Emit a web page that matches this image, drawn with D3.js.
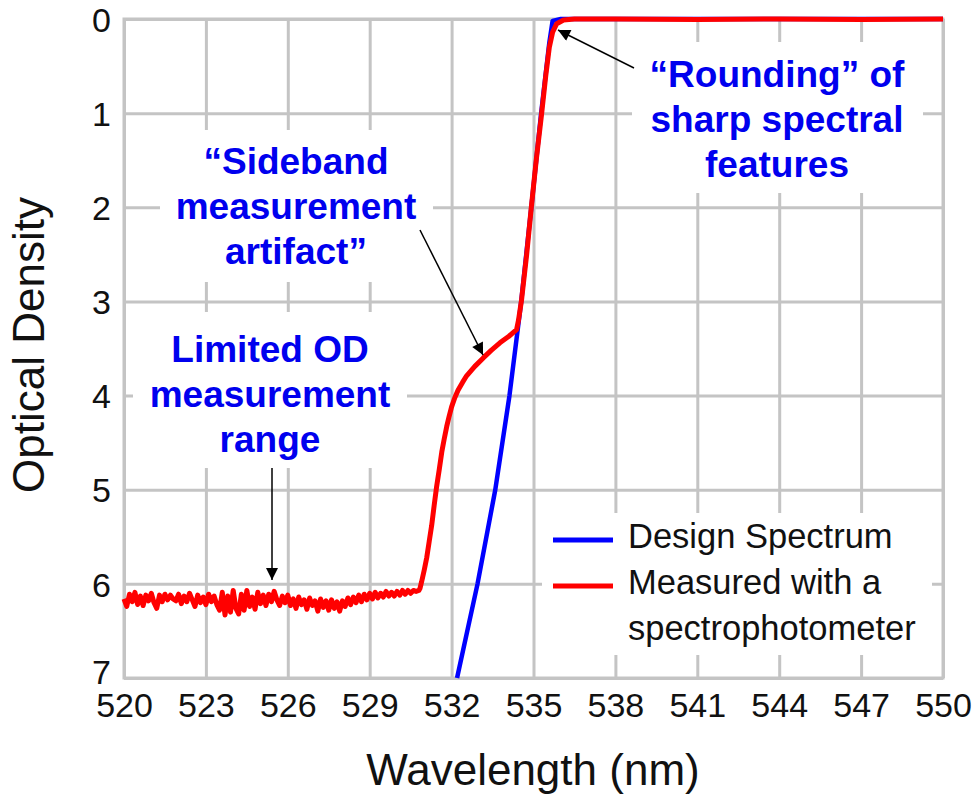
<!DOCTYPE html>
<html>
<head>
<meta charset="utf-8">
<script src="https://cdn.jsdelivr.net/npm/d3@7"></script>
<style>
  body { margin: 0; background: #fff; }
  text { font-family: "Liberation Sans", Arial, sans-serif; }
</style>
</head>
<body>
<svg id="chart" width="975" height="794"></svg>
<script>
// tick values
var xTicks = [520, 523, 526, 529, 532, 535, 538, 541, 544, 547, 550];
var yTicks = [0, 1, 2, 3, 4, 5, 6, 7];

// design spectrum (wavelength nm, optical density)
var designWl = [532.2, 532.95, 533.6, 534.12, 534.55, 534.92, 535.28, 535.58, 535.7, 536, 550];
var designOd = [7, 6, 5, 4, 3, 2, 1, 0.25, 0.02, 0, 0];

// measured with a spectrophotometer: noisy floor 520 - 530.8 nm
var measuredFloor = [
  [520.0, 6.16], [520.1, 6.24], [520.2, 6.11], [520.3, 6.19], [520.4, 6.09], [520.5, 6.22], [520.6, 6.13], [520.7, 6.23], [520.8, 6.12], [520.9, 6.18],
  [521.0, 6.10], [521.1, 6.20], [521.2, 6.26], [521.3, 6.12], [521.4, 6.19], [521.5, 6.11], [521.6, 6.17], [521.7, 6.12], [521.8, 6.16], [521.9, 6.18],
  [522.0, 6.11], [522.1, 6.21], [522.2, 6.13], [522.3, 6.19], [522.4, 6.10], [522.5, 6.17], [522.6, 6.24], [522.7, 6.12], [522.8, 6.20], [522.9, 6.14],
  [523.0, 6.22], [523.1, 6.11], [523.2, 6.19], [523.3, 6.13], [523.4, 6.22], [523.5, 6.28], [523.6, 6.09], [523.7, 6.33], [523.8, 6.13], [523.9, 6.30],
  [524.0, 6.07], [524.1, 6.26], [524.2, 6.32], [524.3, 6.11], [524.4, 6.28], [524.5, 6.07], [524.6, 6.24], [524.7, 6.14], [524.8, 6.27], [524.9, 6.09],
  [525.0, 6.21], [525.1, 6.12], [525.2, 6.23], [525.3, 6.11], [525.4, 6.19], [525.5, 6.08], [525.6, 6.17], [525.7, 6.23], [525.8, 6.13], [525.9, 6.20],
  [526.0, 6.12], [526.1, 6.23], [526.2, 6.16], [526.3, 6.26], [526.4, 6.14], [526.5, 6.22], [526.6, 6.17], [526.7, 6.27], [526.8, 6.15], [526.9, 6.23],
  [527.0, 6.18], [527.1, 6.29], [527.2, 6.16], [527.3, 6.25], [527.4, 6.18], [527.5, 6.28], [527.6, 6.17], [527.7, 6.26], [527.8, 6.19], [527.9, 6.29],
  [528.0, 6.18], [528.1, 6.24], [528.2, 6.15], [528.3, 6.22], [528.4, 6.14], [528.5, 6.20], [528.6, 6.12], [528.7, 6.19], [528.8, 6.11], [528.9, 6.17],
  [529.0, 6.10], [529.1, 6.16], [529.2, 6.09], [529.3, 6.15], [529.4, 6.10], [529.5, 6.14], [529.6, 6.08], [529.7, 6.13], [529.8, 6.09], [529.9, 6.13],
  [530.0, 6.08], [530.1, 6.12], [530.2, 6.07], [530.3, 6.11], [530.4, 6.07], [530.5, 6.10], [530.6, 6.07], [530.7, 6.08], [530.8, 6.07]
];
// measured: edge, sideband shoulder and pass band
var measuredEdge = [
  [530.84, 6.05], [530.9, 5.98], [531.0, 5.85], [531.09, 5.72], [531.18, 5.55], [531.27, 5.38], [531.36, 5.17],
  [531.45, 4.97], [531.55, 4.78], [531.64, 4.6], [531.73, 4.46], [531.82, 4.33], [531.91, 4.22], [532.0, 4.12],
  [532.12, 4.02], [532.24, 3.94], [532.4, 3.86], [532.55, 3.79], [532.85, 3.69], [533.16, 3.6], [533.45, 3.52],
  [533.77, 3.44], [534.1, 3.37], [534.38, 3.3], [534.45, 3.2], [534.56, 2.99], [534.75, 2.5], [534.92, 2.0],
  [535.1, 1.5], [535.3, 1.0], [535.45, 0.6], [535.58, 0.3], [535.7, 0.14], [535.85, 0.05], [536.1, 0.01],
  [536.5, 0], [538, 0], [541, 0.005], [544, 0], [547, 0.005], [550, 0]
];

var legendNames = ["Design Spectrum", "Measured with a", "spectrophotometer"];
var noteRounding = ["\u201cRounding\u201d of", "sharp spectral", "features"];
var noteSideband = ["\u201cSideband", "measurement", "artifact\u201d"];
var noteLimited = ["Limited OD", "measurement", "range"];

var svg = d3.select("#chart");
var margin = {left: 124, top: 19, right: 32, bottom: 116};
var w = 975 - margin.left - margin.right;
var h = 794 - margin.top - margin.bottom;
var grey = "#c4c4c4";

var x = d3.scaleLinear().domain([520, 550]).range([0, w]);
var y = d3.scaleLinear().domain([0, 7]).range([0, h]);

var g = svg.append("g").attr("transform", "translate(" + margin.left + "," + margin.top + ")");

// grid + tick labels
var xAxis = g.append("g").attr("transform", "translate(0," + h + ")")
  .call(d3.axisBottom(x).tickValues(xTicks).tickSize(-h).tickPadding(15).tickFormat(d3.format("d")));
var yAxis = g.append("g")
  .call(d3.axisLeft(y).tickValues(yTicks).tickSize(-w).tickPadding(13).tickFormat(d3.format("d")));
[xAxis, yAxis].forEach(function(a){
  a.select(".domain").remove();
  a.selectAll("line").attr("stroke", grey).attr("stroke-width", 3);
  a.selectAll("text").attr("font-size", 34).attr("fill", "#111")
    .style("font-family", "'Liberation Sans', Arial, sans-serif");
});
yAxis.selectAll("text").attr("dy", "0.36em");
// bottom label sits a little higher, clear of the x labels
yAxis.selectAll(".tick").filter(function(d){ return d === 7; }).select("text").attr("y", -7);

g.append("rect").attr("width", w).attr("height", h)
  .attr("fill", "none").attr("stroke", grey).attr("stroke-width", 3);

// white panels behind the notes and legend (they cut the grid)
function panel(x0, y0, x1, y1){
  svg.append("rect").attr("x", x0).attr("y", y0).attr("width", x1 - x0).attr("height", y1 - y0).attr("fill", "#fff");
}
panel(160, 130, 433, 282);
panel(133, 312, 407, 468);
panel(632, 42, 923, 193);
panel(542, 513, 932, 655);

var plot = svg.append("g").attr("transform", "translate(" + margin.left + "," + margin.top + ")");

var line = d3.line().x(function(d){ return x(d[0]); }).y(function(d){ return y(d[1]); });

plot.append("path")
  .datum(designWl.map(function(v, i){ return [v, designOd[i]]; }))
  .attr("d", line).attr("fill", "none").attr("stroke", "#0000ff").attr("stroke-width", 4.5)
  .attr("stroke-linejoin", "round");

plot.append("path")
  .datum(measuredFloor.concat(measuredEdge))
  .attr("d", line).attr("fill", "none").attr("stroke", "#ff0000").attr("stroke-width", 5)
  .attr("stroke-linejoin", "round");

// axis titles
svg.append("text").attr("x", 533).attr("y", 785).attr("text-anchor", "middle")
  .attr("font-size", 44).attr("fill", "#111").text("Wavelength (nm)");
svg.append("text").attr("transform", "translate(44,345) rotate(-90)").attr("text-anchor", "middle")
  .attr("font-size", 44).attr("fill", "#111").text("Optical Density");

// legend
var legendColors = ["#0000ff", "#ff0000"];
legendColors.forEach(function(c, i){
  svg.append("line").attr("x1", 553).attr("x2", 613).attr("y1", 540 + i * 46).attr("y2", 540 + i * 46)
    .attr("stroke", c).attr("stroke-width", 5);
});
legendNames.forEach(function(t, i){
  svg.append("text").attr("x", 628).attr("y", 548 + i * 46).attr("font-size", 34.5).attr("fill", "#111").text(t);
});

// notes
function note(lines, cx, y0){
  lines.forEach(function(t, i){
    svg.append("text").attr("x", cx).attr("y", y0 + i * 45).attr("text-anchor", "middle")
      .attr("font-size", 37).attr("font-weight", "bold").attr("fill", "#0000ee").text(t);
  });
}
note(noteRounding, 777, 87);
note(noteSideband, 296, 174);
note(noteLimited, 270, 362);

// arrows
svg.append("defs").append("marker").attr("id", "head")
  .attr("viewBox", "0 0 10 10").attr("refX", 10).attr("refY", 5)
  .attr("markerUnits", "userSpaceOnUse").attr("markerWidth", 15).attr("markerHeight", 12)
  .attr("orient", "auto")
  .append("path").attr("d", "M0,0L10,5L0,10z").attr("fill", "#000");

function arrow(x1, y1, x2, y2){
  svg.append("line").attr("x1", x1).attr("y1", y1).attr("x2", x2).attr("y2", y2)
    .attr("stroke", "#000").attr("stroke-width", 1.5).attr("marker-end", "url(#head)");
}
arrow(634, 68, 558, 30);
arrow(420, 230, 483, 355);
arrow(272, 468, 272, 580);
</script>
</body>
</html>
